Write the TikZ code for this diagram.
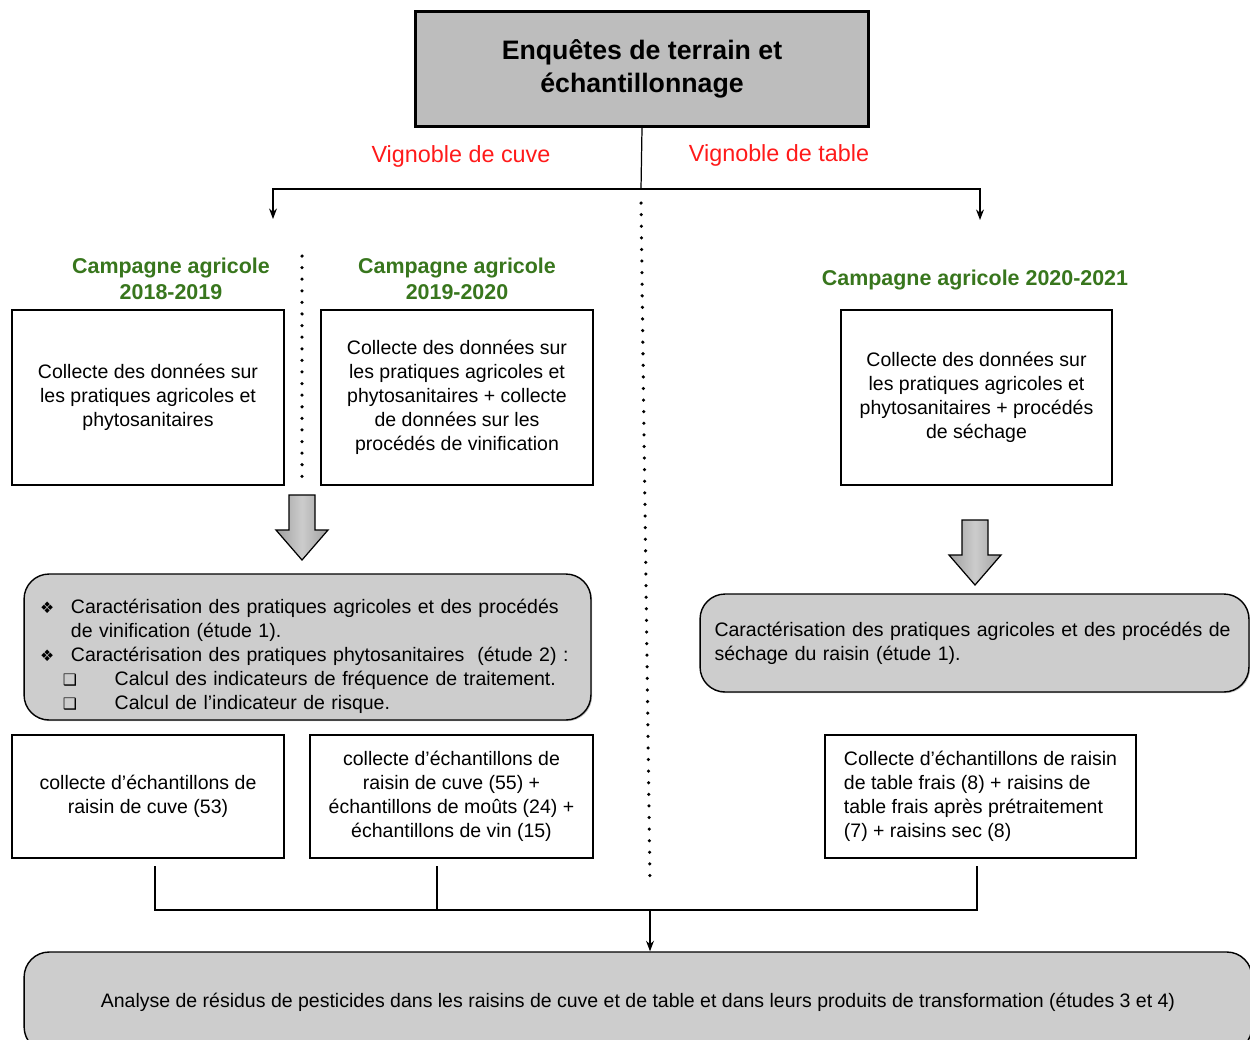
\documentclass[tikz,border=0pt]{standalone}
\usepackage{fontspec}
\setmainfont{Liberation Sans}
\newfontfamily\symfont{DejaVu Sans}
\usetikzlibrary{arrows.meta,shadows}
\definecolor{titlegray}{HTML}{BDBDBD}
\definecolor{boxgray}{HTML}{CDCDCD}
\definecolor{campgreen}{HTML}{38761D}
\definecolor{vignred}{HTML}{FF1A1A}
\tikzset{
    txt/.style={font=\fontsize{11.1}{13.6}\selectfont},
    boxshadow/.style={drop shadow={shadow xshift=0.7pt, shadow yshift=-0.7pt, opacity=0.45}},
    titlebox/.style={draw, line width=1.7pt, fill=titlegray, boxshadow,
        minimum width=9.08cm, minimum height=2.3cm, align=center,
        font=\bfseries\fontsize{15.2}{18.7}\selectfont},
    databox/.style={txt, draw, line width=0.8pt, fill=white, boxshadow, align=center, inner sep=2pt},
    roundbox/.style={txt, draw, line width=0.8pt, fill=boxgray, boxshadow, rounded corners=0.5cm, align=left},
    vignoble/.style={text=vignred, font=\fontsize{13.3}{15}\selectfont},
    campagne/.style={text=campgreen, align=center, font=\bfseries\fontsize{12.2}{14.7}\selectfont},
    link/.style={line width=0.7pt},
    linkarrow/.style={link, -{Stealth[length=6pt, width=4.5pt]}},
    sep/.style={line width=2pt, line cap=round, dash pattern=on 0pt off 6.6pt},
    bigarrow/.pic={\draw[line width=0.7pt, left color=gray!75, right color=gray!75, middle color=gray!40]
        (-13,0) -- (13,0) -- (13,35) -- (26,35) -- (0,65) -- (-26,35) -- (-13,35) -- cycle;},
    }
\newcommand{\diam}{\makebox[17.6pt][l]{\symfont\small ❖}}
\newcommand{\sqbul}{\hspace*{13pt}\makebox[29.5pt][l]{\symfont\small ❑}}

\begin{document}
\begin{tikzpicture}[x=0.02cm, y=-0.02cm]
\useasboundingbox (0,0) rectangle (1250,1039);

\node[titlebox] (enquete) at (642,69) {Enquêtes de terrain et\\échantillonnage};
\node[vignoble] (cuveLbl) at (461,156) {Vignoble de cuve};
\node[vignoble] (tableLbl) at (779,155) {Vignoble de table};

\coordinate (split) at (641,189);
\coordinate (cuveEnd) at (273,219);
\coordinate (tableEnd) at (980,220);
\draw[link] (enquete.south) -- (split);
\draw[linkarrow] (split) -| (cuveEnd);
\draw[linkarrow] (split) -| (tableEnd);

% separations
\draw[sep] (641,203) -- (650,884);
\draw[sep] (302,256) -- (302,480);

% campagnes
\node[campagne] (campA) at (171,279) {Campagne agricole\\2018-2019};
\node[campagne] (campB) at (457,279) {Campagne agricole\\2019-2020};
\node[campagne] (campC) at (975,280) {Campagne agricole 2020-2021};

\node[databox, minimum width=5.44cm, minimum height=3.5cm] (donneesA) at (148,397.5)
    {Collecte des données sur\\les pratiques agricoles et\\phytosanitaires};
\node[databox, minimum width=5.44cm, minimum height=3.5cm] (donneesB) at (457,397.5)
    {Collecte des données sur\\les pratiques agricoles et\\phytosanitaires + collecte\\de données sur les\\procédés de vinification};
\node[databox, minimum width=5.42cm, minimum height=3.5cm] (donneesC) at (976.5,397.5)
    {Collecte des données sur\\les pratiques agricoles et\\phytosanitaires + procédés\\de séchage};

\pic at (302,495) {bigarrow};
\pic at (975,520) {bigarrow};

\node[roundbox, inner xsep=0.32cm, text width=10.7cm, minimum height=2.92cm] (caraCuve) at (307.5,647) {%
    \rule{0pt}{19pt}\diam Caractérisation des pratiques agricoles et des procédés\\
    \hspace*{17.6pt}de vinification (étude 1).\\
    \diam Caractérisation des pratiques phytosanitaires\ \ (étude 2) :\\
    \sqbul Calcul des indicateurs de fréquence de traitement.\\
    \sqbul Calcul de l’indicateur de risque.};
\node[roundbox, inner xsep=0.29cm, text width=10.4cm, minimum height=1.96cm] (caraTable) at (974.5,643)
    {Caractérisation des pratiques agricoles et des procédés de\\séchage du raisin (étude 1).\\[15pt]};

% echantillons
\node[databox, minimum width=5.44cm, minimum height=2.46cm] (echA) at (148,796.5)
    {collecte d’échantillons de\\raisin de cuve (53)};
\node[databox, minimum width=5.66cm, minimum height=2.46cm] (echB) at (451.5,796.5)
    {collecte d’échantillons de\\raisin de cuve (55) +\\échantillons de moûts (24) +\\échantillons de vin (15)};
\node[databox, minimum width=6.22cm, minimum height=2.46cm, align=left] (echC) at (980.5,796.5)
    {Collecte d’échantillons de raisin\\de table frais (8) + raisins de\\table frais après prétraitement\\(7) + raisins sec (8)};

\coordinate (jA) at (155,866);
\coordinate (jB) at (437,866);
\coordinate (jC) at (977,866);
\coordinate (merge) at (650,910);
\draw[link] (jA) |- (merge) -| (jC);
\draw[link] (jB) -- (jB |- merge);

\node[roundbox, align=center, minimum width=24.56cm, minimum height=2cm] (analyse) at (638,1002)
    {Analyse de résidus de pesticides dans les raisins de cuve et de table et dans leurs produits de transformation (études 3 et 4)};
\draw[linkarrow] (merge) -- (merge |- analyse.north);
\end{tikzpicture}
\end{document}
